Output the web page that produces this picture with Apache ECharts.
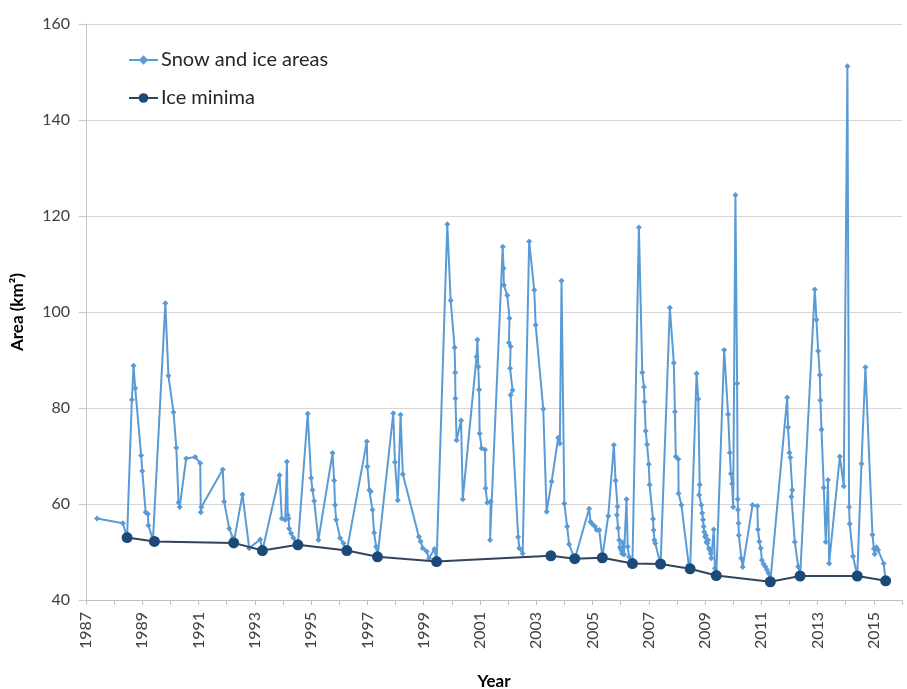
<!DOCTYPE html>
<html>
<head>
<meta charset="utf-8">
<script src="https://cdn.jsdelivr.net/npm/echarts@6/dist/echarts.min.js"></script>
<style>
html,body{margin:0;padding:0;background:#fff;}
#chart{width:907px;height:689px;}
</style>
</head>
<body>
<div id="chart"></div>
<script>
// Snow and ice areas: [decimal year, area km²]
const snowIceYears = [
1987.39,1988.31,1988.46,1988.63,1988.69,1988.75,1988.96,1989.00,1989.12,1989.20,1989.22,1989.38,1989.43,
1989.82,1989.93,1990.11,1990.21,1990.29,1990.33,1990.56,1990.88,1991.06,1991.08,1991.10,1991.86,1991.91,
1992.09,1992.22,1992.25,1992.56,1992.80,1993.19,1993.27,1993.88,1993.96,1994.08,1994.14,1994.17,1994.20,
1994.22,1994.29,1994.37,1994.53,1994.88,1995.00,1995.05,1995.11,1995.26,1995.76,1995.82,1995.85,1995.89,
1996.03,1996.15,1996.27,1996.98,1997.00,1997.07,1997.12,1997.18,1997.24,1997.31,1997.36,1997.92,1997.98,
1998.08,1998.18,1998.26,1998.83,1998.89,1998.97,1999.11,1999.19,1999.38,1999.46,1999.84,1999.96,2000.10,
2000.12,2000.13,2000.17,2000.33,2000.39,2000.88,2000.91,2000.94,2000.97,2000.99,2001.06,2001.18,2001.20,
2001.26,2001.38,2001.36,2001.81,2001.84,2001.85,2001.97,2002.05,2002.03,2002.09,2002.07,2002.16,2002.09,
2002.36,2002.40,2002.52,2002.75,2002.93,2002.98,2003.25,2003.37,2003.55,2003.78,2003.84,2003.90,2004.00,
2004.10,2004.17,2004.37,2004.88,2004.93,2005.00,2005.09,2005.15,2005.24,2005.35,2005.56,2005.76,2005.82,
2005.89,2005.87,2005.91,2005.95,2005.98,2006.00,2006.02,2006.05,2006.08,2006.12,2006.21,2006.25,2006.30,
2006.42,2006.65,2006.77,2006.83,2006.85,2006.89,2006.94,2007.00,2007.03,2007.15,2007.17,2007.20,2007.23,
2007.42,2007.75,2007.89,2007.93,2007.96,2008.05,2008.06,2008.16,2008.42,2008.47,2008.70,2008.76,2008.81,
2008.79,2008.87,2008.90,2008.93,2008.95,2008.97,2009.00,2009.03,2009.05,2009.08,2009.11,2009.14,2009.17,
2009.20,2009.22,2009.31,2009.35,2009.40,2009.68,2009.82,2009.88,2009.92,2009.96,2010.00,2010.08,2010.14,
2010.16,2010.17,2010.19,2010.20,2010.29,2010.34,2010.69,2010.86,2010.88,2010.93,2010.98,2011.02,2011.08,
2011.14,2011.20,2011.25,2011.32,2011.92,2011.95,2012.00,2012.03,2012.10,2012.07,2012.19,2012.31,2012.38,
2012.90,2012.96,2013.02,2013.08,2013.10,2013.14,2013.22,2013.29,2013.37,2013.41,2013.79,2013.93,2014.06,
2014.12,2014.14,2014.26,2014.41,2014.56,2014.70,2014.95,2015.00,2015.03,2015.09,2015.15,2015.35,2015.42
];
const snowIceValues = [
57.0,56.0,53.0,81.7,88.8,84.1,70.1,66.9,58.3,57.9,55.5,52.5,52.2,
101.8,86.7,79.1,71.7,60.3,59.4,69.5,69.8,68.5,58.3,59.4,67.2,60.5,
54.9,52.9,51.9,62.0,50.8,52.6,50.3,66.0,57.0,56.7,68.8,57.7,57.0,
54.9,53.9,52.9,51.5,78.8,65.4,62.9,60.6,52.5,70.6,64.9,59.8,56.7,
52.9,51.8,50.3,73.0,67.8,62.9,62.6,58.8,54.0,51.1,49.0,78.9,68.7,
60.8,78.6,66.2,53.2,52.2,50.8,50.1,48.7,50.6,48.0,118.3,102.4,92.6,
87.4,82.0,73.3,77.4,61.0,90.7,94.2,88.6,83.8,74.7,71.6,71.3,63.3,
60.3,60.5,52.5,113.6,109.1,105.6,103.5,98.7,93.6,92.8,88.3,83.7,82.7,
53.1,50.8,49.7,114.7,104.6,97.3,79.8,58.4,64.7,73.8,72.6,106.5,60.1,
55.3,51.6,48.5,59.0,56.3,55.8,55.3,54.6,54.6,48.9,57.5,72.3,64.9,
59.5,57.7,55.0,52.5,51.0,50.8,50.4,49.7,52.0,49.5,61.0,51.1,49.0,
47.5,117.6,87.4,84.4,81.3,75.2,72.4,68.3,64.0,56.9,54.6,52.5,51.8,
47.4,100.9,89.4,79.2,69.9,69.3,62.2,59.8,47.3,46.6,87.2,81.9,64.0,
61.9,59.8,58.1,56.7,55.3,54.2,53.2,53.5,52.1,51.8,52.5,50.8,50.4,
49.7,48.7,54.7,46.6,45.0,92.1,78.7,70.7,66.3,64.2,59.4,124.4,85.1,
61.0,58.8,56.0,53.5,48.7,46.9,59.8,59.6,54.7,52.2,50.8,48.3,47.5,
47.0,46.3,45.6,43.8,82.2,76.0,70.7,69.7,62.9,61.5,52.1,47.0,45.0,
104.7,98.4,91.9,86.9,81.6,75.5,63.4,52.1,65.0,47.6,69.9,63.7,151.2,
59.4,55.9,49.1,45.0,68.4,88.5,53.6,50.7,49.6,51.0,50.4,47.6,44.0
];
// Ice minima
const minimaYears = [1988.46,1989.43,1992.25,1993.27,1994.53,1996.27,1997.36,1999.46,2003.52,2004.37,2005.35,2006.42,2007.42,2008.47,2009.40,2011.32,2012.38,2014.41,2015.42];
const minimaValues = [53.0,52.2,51.9,50.3,51.5,50.3,49.0,48.0,49.2,48.6,48.8,47.6,47.5,46.5,45.1,43.8,45.0,45.0,44.0];

const seriesNames = ['Snow and ice areas','Ice minima'];
const yearMin = 1987, yearMax = 2016;
const areaMin = 40, areaMax = 160, areaStep = 20;

const snowData = snowIceYears.map((y,i)=>[y, snowIceValues[i]]);
const minData = minimaYears.map((y,i)=>[y, minimaValues[i]]);

const FONT = 'Lato, "Open Sans", sans-serif';
const chart = echarts.init(document.getElementById('chart'), null, {renderer:'canvas'});
chart.setOption({
  animation:false,
  backgroundColor:'#ffffff',
  grid:{left:86, right:5, top:24, bottom:89, containLabel:false, outerBoundsMode:'none'},
  legend:{
    left:123, top:45, orient:'vertical', itemGap:18,
    itemWidth:29, itemHeight:12,
    textStyle:{fontFamily:FONT, fontSize:20, color:'#262626', padding:[0,0,0,-2]},
    data:seriesNames
  },
  xAxis:{
    type:'value', min:yearMin, max:yearMax, interval:1,
    name:'Year', nameLocation:'middle', nameGap:73,
    nameTextStyle:{fontFamily:FONT, fontSize:17, fontWeight:'bold', color:'#000'},
    axisLine:{show:true, lineStyle:{color:'#bfbfbf', width:1}},
    axisTick:{show:true, length:5, lineStyle:{color:'#bfbfbf'}},
    axisLabel:{rotate:90, margin:12, fontFamily:FONT, fontSize:16, color:'#404040',
      formatter:function(v){ return (Math.round(v)%2===1) ? String(Math.round(v)) : ''; }},
    splitLine:{show:false}
  },
  yAxis:{
    type:'value', min:areaMin, max:areaMax, interval:areaStep,
    name:'Area (km²)', nameLocation:'middle', nameGap:60,
    nameTextStyle:{fontFamily:FONT, fontSize:17, fontWeight:'bold', color:'#000'},
    axisLine:{show:true, lineStyle:{color:'#c8c8c8', width:1}},
    axisTick:{show:true, length:7, lineStyle:{color:'#c8c8c8'}},
    axisLabel:{margin:16, fontFamily:FONT, fontSize:16, color:'#404040'},
    splitLine:{show:true, lineStyle:{color:'#d6d6d6', width:1}}
  },
  series:[
    {
      name:seriesNames[0], type:'line', data:snowData,
      symbol:'diamond', symbolSize:6, showSymbol:true,
      lineStyle:{color:'#5b9bd5', width:2},
      itemStyle:{color:'#5b9bd5'},
      z:2
    },
    {
      name:seriesNames[1], type:'line', data:minData,
      symbol:'circle', symbolSize:11,
      lineStyle:{color:'#34445a', width:2},
      itemStyle:{color:'#1b4a78'},
      z:3
    }
  ]
});
</script>
</body>
</html>
